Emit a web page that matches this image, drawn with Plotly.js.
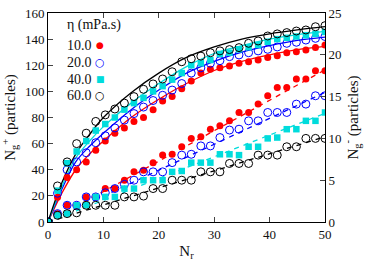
<!DOCTYPE html>
<html><head><meta charset="utf-8">
<script src="https://cdn.plot.ly/plotly-3.0.1.min.js"></script>
<style>html,body{margin:0;padding:0;background:#fff}#chart{width:373px;height:261px}</style>
</head><body><div id="chart"></div>
<script>
// N_r values of the markers
const nr = [0,1.72,3.45,5.17,6.9,8.62,10.34,12.07,13.79,15.52,17.24,18.97,20.69,22.41,24.14,25.86,27.59,29.31,31.03,32.76,34.48,36.21,37.93,39.66,41.38,43.10,44.83,46.55,48.28,50];
// N_g^+ (left axis)
const plus10 = [0,19,34,40,46,55,62,68,72,77,80,86,92.6,96,102,108,114,117,118,119.4,121.5,122.7,124,126,127.3,129.6,130.4,131.7,133.5,135.5];
const plus20 = [0,22,40,46,53,60.7,66,72,78,83,88,93,97,101,106,114,118,121.5,123.5,126.6,127.9,129.6,131,132.2,134,136.8,137.6,139.3,140.6,142];
const plus40 = [0,24,45,54,62,70,75,80,86,91,95,100,104,109,114,120,121.5,124,128.6,129.6,132.2,133.8,135.5,138,140,141,142,143,144,145.5];
const plus60 = [0,27.6,46,60,68,77,82,86.5,91,96,101.6,105.7,109.5,115,122.7,125,127,129.6,131,132,133.5,136.8,138.6,142.4,144,145,146.2,147,149.5,150.3];
// N_g^- (right axis)
const minus10 = [0,1,2,2,3,3,4,4,5,6,6.2,7.1,8,8.1,9,10,10.2,11.1,11.5,12.1,13.1,13.1,14.1,15.1,16.1,16.1,17.1,17.1,18.1,18.1];
const minus20 = [0,1,2,2,3,3,3.5,4,4.5,5,6,6,6,7.1,8,8.1,9.1,9.1,10.1,11,11.1,12.1,12.1,13.1,13.1,13.1,14.1,14.1,15.1,15.1];
const minus40 = [0,0.8,1,2,2,3,3,3,4,4,5,5,5,6,6.1,7.1,7.1,7.1,8.1,8.1,8,9,9,10,10.1,11.1,11.1,12.1,12.1,13.1];
const minus60 = [0,0.8,1,1.1,2,2,2,2,3,3,3.1,4,4,5,5,5,6,6,6,7,7,7,8,8,8,9,9,10,10,10];
// fit curves (solid, left axis)
const fitX = [0,2.5,5,7.5,10,15,20,25,30,35,40,45,50];
const fit10 = [0,22,40,52,62,80,94,106,116,123,128,132,134.5];
const fit20 = [0,25,46,58,68,86,101,114,123,130,135,139,141.5];
const fit40 = [0,27,49,62,73,91,106,119,129,135,140,143.5,146];
const fit60 = [0,30,52,67,80,99,114,126,134,140,144,147,149.5];
// fit lines (dashed, right axis)
const dX = [0,25,50];
const d10 = [0,9.1,18.2];
const d20 = [0,7.75,15.5];
const d40 = [0,6.5,13.0];
const d60 = [0,5.1,10.2];
const labels = ['10.0','20.0','40.0','60.0'];
const colors = ['#ff0000','#0000ff','#00dcdc','#000000'];

const plusSets = [plus10,plus20,plus40,plus60];
const minusSets = [minus10,minus20,minus40,minus60];
const fitSets = [fit10,fit20,fit40,fit60];
const dSets = [d10,d20,d40,d60];
const markerFor = (k) => {
  if (k===0) return {symbol:'circle', size:7, color:colors[0]};
  if (k===2) return {symbol:'square', size:6.5, color:colors[2]};
  return {symbol:'circle-open', size:8, color:colors[k], line:{width:1, color:colors[k]}};
};
const traces = [];
for (let k=0;k<4;k++){
  traces.push({x:fitX, y:fitSets[k], mode:'lines', line:{color:colors[k], width:1.3, shape:'spline'}, showlegend:false, hoverinfo:'skip'});
  traces.push({x:dX, y:dSets[k], yaxis:'y2', mode:'lines', line:{color:colors[k], width:1.3, dash:'5px,5px'}, showlegend:false, hoverinfo:'skip'});
}
for (let k=0;k<4;k++){
  traces.push({x:nr, y:plusSets[k], mode:'markers', marker:markerFor(k), name:labels[k], showlegend:false});
  traces.push({x:nr, y:minusSets[k], yaxis:'y2', mode:'markers', marker:markerFor(k), name:labels[k], showlegend:false});
}
const font = {family:'Liberation Serif, serif', size:13, color:'#111'};
const px = (v)=> (v-48)/277, py = (v)=> (222-v)/209;
const sym = ['●','○','■','○'];
const symSize = [9,11,9,11];
const ann = [{xref:'paper',yref:'paper',x:px(65),y:py(25),xanchor:'left',yanchor:'middle',text:'η (mPa.s)',showarrow:false,font:{...font,size:14}}];
const rowsY = [45,62,79,95];
for (let k=0;k<4;k++){
  ann.push({xref:'paper',yref:'paper',x:px(65),y:py(rowsY[k]),xanchor:'left',yanchor:'middle',text:labels[k],showarrow:false,font:{...font,size:14}});
  ann.push({xref:'paper',yref:'paper',x:px(100),y:py(rowsY[k]),xanchor:'center',yanchor:'middle',text:sym[k],showarrow:false,font:{family:'DejaVu Sans',size:symSize[k],color:colors[k]}});
}
const layout = {
  width:373, height:261, margin:{l:48,r:48,t:13,b:39},
  paper_bgcolor:'#fff', plot_bgcolor:'#fff', font:font, showlegend:false,
  xaxis:{range:[0,50], tickvals:[0,10,20,30,40,50], ticks:'inside', ticklen:5, showline:true, mirror:'ticks', linecolor:'#000', linewidth:1, showgrid:false, zeroline:false, tickfont:font,
    title:{text:'N<sub>r</sub>', font:{...font,size:15}, standoff:8}},
  yaxis:{range:[0,160], tickvals:[0,20,40,60,80,100,120,140,160], ticks:'inside', ticklen:5, showline:true, linecolor:'#000', linewidth:1, showgrid:false, zeroline:false, tickfont:font,
    title:{text:'N<sub>g</sub><sup>+</sup> (particles)', font:{...font,size:15}, standoff:6}},
  yaxis2:{range:[0,25], tickvals:[0,5,10,15,20,25], overlaying:'y', side:'right', ticks:'inside', ticklen:5, showline:true, linecolor:'#000', linewidth:1, showgrid:false, zeroline:false, tickfont:font,
    title:{text:'N<sub>g</sub><sup>-</sup> (particles)', font:{...font,size:15}, standoff:6}},
  annotations: ann
};
Plotly.newPlot('chart', traces, layout, {staticPlot:true, displayModeBar:false});
</script></body></html>
